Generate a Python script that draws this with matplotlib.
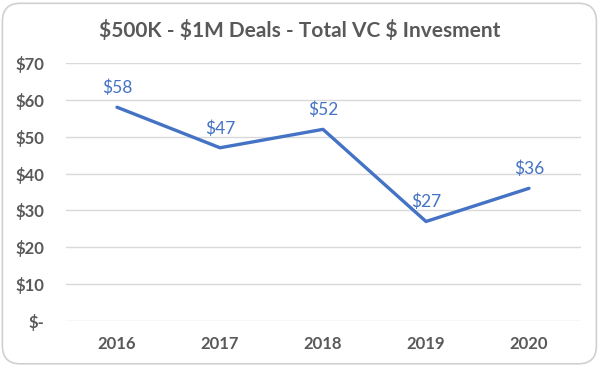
import matplotlib
matplotlib.use("Agg")
import matplotlib.pyplot as plt
from matplotlib.patches import FancyBboxPatch

years = ["2016", "2017", "2018", "2019", "2020"]
values = [58, 47, 52, 27, 36]
yticks = [0, 10, 20, 30, 40, 50, 60, 70]
ytick_labels = ["$-", "$10", "$20", "$30", "$40", "$50", "$60", "$70"]
title = "$500K - $1M Deals - Total VC $ Invesment"

plt.rcParams['font.family'] = ['Lato', 'DejaVu Sans']

fig = plt.figure(figsize=(6, 3.66), dpi=100)
fig.patch.set_facecolor('white')
border = FancyBboxPatch((0.004, 0.006), 0.99, 0.985,
                        boxstyle="round,pad=0,rounding_size=0.03",
                        transform=fig.transFigure, facecolor='none',
                        edgecolor='#d0d0d0', linewidth=1.2, mutation_aspect=600/366,
                        zorder=-5)
fig.patches.append(border)

ax = fig.add_axes([65.5/600, 45/366, 515/600, 258/366])
ax.set_facecolor('none')
x = list(range(len(years)))
ax.plot(x, values, color='#4472C4', linewidth=2.4, solid_capstyle='round', zorder=3)
for xi, v in zip(x, values):
    ax.annotate(f"${v}", (xi, v), xytext=(0, 8), textcoords='offset points',
                ha='center', va='bottom', color='#4472C4', fontsize=12.5)

ax.set_xlim(-0.5, len(years) - 0.5)
ax.set_ylim(0, 70)
ax.set_yticks(yticks)
ax.set_yticklabels(ytick_labels)
ax.set_xticks(x)
ax.set_xticklabels(years)
ax.grid(axis='y', color='#d9d9d9', linewidth=1)
ax.set_axisbelow(True)
for s in ax.spines.values():
    s.set_visible(False)
ax.tick_params(length=0, colors='#595959', labelsize=12)
for lab in ax.get_xticklabels() + ax.get_yticklabels():
    lab.set_fontweight('bold')
ax.tick_params(axis='x', pad=11)
ax.tick_params(axis='y', pad=15)

fig.text(0.5, 1 - 30/366, title, ha='center', va='center', fontsize=15,
         fontweight='bold', color='#595959')

fig.savefig('out.png', dpi=100)
